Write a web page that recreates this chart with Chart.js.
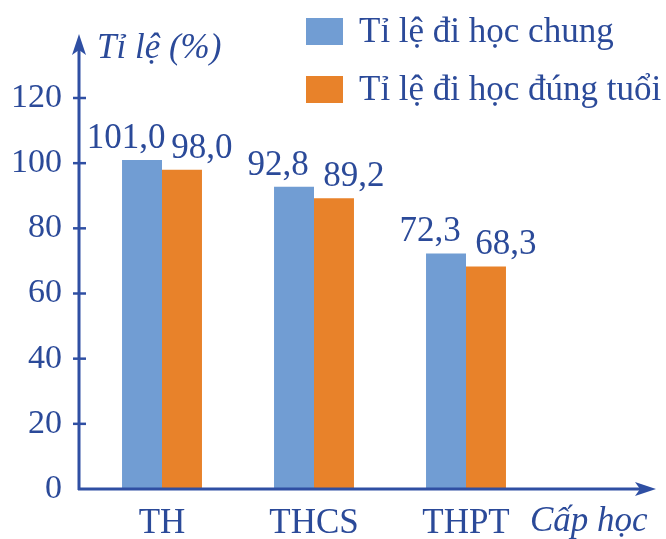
<!DOCTYPE html>
<html>
<head>
<meta charset="utf-8">
<script src="https://cdn.jsdelivr.net/npm/chart.js@4.4.0/dist/chart.umd.min.js"></script>
<style>
  html, body { margin: 0; padding: 0; background: #fff; }
</style>
</head>
<body>
<canvas id="myChart" width="666" height="539"></canvas>
<script>
// ----------------- Data -------------------------//
const categories = ["TH", "THCS", "THPT"];
const generalRate = [101.0, 92.8, 72.3]; // Tỉ lệ đi học chung
const ageRate = [98.0, 89.2, 68.3];      // Tỉ lệ đi học đúng tuổi
const seriesNames = ["Tỉ lệ đi học chung", "Tỉ lệ đi học đúng tuổi"];
const yTicks = [0, 20, 40, 60, 80, 100, 120];

const textColor = "#2b4a99";
const axisColor = "#2f4fa3";
const blue = "#719dd3";
const orange = "#e8822a";
const serif = "'Liberation Serif', 'DejaVu Serif', serif";

// value label horizontal shift per dataset (labels spread apart)
const labelShift = [-16, 20];

// draws the arrow axes, tick marks, value labels, legend and axis titles
const decorPlugin = {
	id: "decor",
	afterDraw(chart) {
		const ctx = chart.ctx;
		const area = chart.chartArea;
		const yScale = chart.scales.y;
		const ax = area.left - 7;
		const ay = area.bottom;

		ctx.save();
		ctx.strokeStyle = axisColor;
		ctx.fillStyle = axisColor;
		ctx.lineWidth = 3;

		// y axis + arrow
		ctx.beginPath();
		ctx.moveTo(ax, ay + 1);
		ctx.lineTo(ax, area.top - 55);
		ctx.stroke();
		ctx.beginPath();
		ctx.moveTo(ax, area.top - 64);
		ctx.lineTo(ax - 7, area.top - 43);
		ctx.lineTo(ax, area.top - 48);
		ctx.lineTo(ax + 7, area.top - 43);
		ctx.closePath();
		ctx.fill();

		// x axis + arrow
		ctx.beginPath();
		ctx.moveTo(ax - 1, ay);
		ctx.lineTo(645, ay);
		ctx.stroke();
		ctx.beginPath();
		ctx.moveTo(656, ay);
		ctx.lineTo(635, ay - 7);
		ctx.lineTo(640, ay);
		ctx.lineTo(635, ay + 7);
		ctx.closePath();
		ctx.fill();

		// y tick marks
		ctx.lineWidth = 2.5;
		yTicks.forEach((v) => {
			if (v === 0) return;
			const py = yScale.getPixelForValue(v);
			ctx.beginPath();
			ctx.moveTo(ax - 6, py);
			ctx.lineTo(ax + 7, py);
			ctx.stroke();
		});

		// value labels
		ctx.fillStyle = textColor;
		ctx.font = "35px " + serif;
		ctx.textAlign = "center";
		ctx.textBaseline = "alphabetic";
		chart.data.datasets.forEach((ds, di) => {
			chart.getDatasetMeta(di).data.forEach((bar, i) => {
				const txt = ds.data[i].toFixed(1).replace(".", ",");
				ctx.fillText(txt, bar.x + labelShift[di], bar.y - 12);
			});
		});

		// legend
		ctx.textAlign = "left";
		ctx.textBaseline = "middle";
		chart.data.datasets.forEach((ds, di) => {
			const top = 18 + di * 58;
			ctx.fillStyle = ds.backgroundColor;
			ctx.fillRect(306, top, 37, 27);
			ctx.fillStyle = textColor;
			ctx.fillText(ds.label, 359, top + 15);
		});

		// axis titles
		ctx.font = "italic 35px " + serif;
		ctx.fillText("Tỉ lệ (%)", 97, 49);
		ctx.fillText("Cấp học", 530, 522);

		ctx.restore();
	},
};

const ctx = document.getElementById("myChart");
const myChart = new Chart(ctx, {
	type: "bar",
	data: {
		labels: categories,
		datasets: [
			{ label: seriesNames[0], data: generalRate, backgroundColor: blue },
			{ label: seriesNames[1], data: ageRate, backgroundColor: orange },
		],
	},
	options: {
		responsive: false,
		animation: false,
		devicePixelRatio: 1,
		layout: { padding: { left: 0, right: 124, top: 98, bottom: 0 } },
		datasets: {
			bar: { barPercentage: 1, categoryPercentage: 0.526 },
		},
		scales: {
			x: {
				grid: { display: false, drawTicks: false },
				border: { display: false },
				ticks: {
					color: textColor,
					font: { family: serif, size: 35 },
					padding: 14,
				},
				afterFit: (s) => { s.height = 50; },
			},
			y: {
				min: 0,
				max: 120,
				grid: { display: false, drawTicks: false },
				border: { display: false },
				ticks: {
					color: textColor,
					font: { family: serif, size: 34 },
					padding: 24,
				},
				afterBuildTicks: (s) => { s.ticks = yTicks.map((v) => ({ value: v })); },
				afterFit: (s) => { s.width = 86; },
			},
		},
		plugins: {
			legend: { display: false },
			tooltip: { enabled: false },
		},
	},
	plugins: [decorPlugin],
});
</script>
</body>
</html>
